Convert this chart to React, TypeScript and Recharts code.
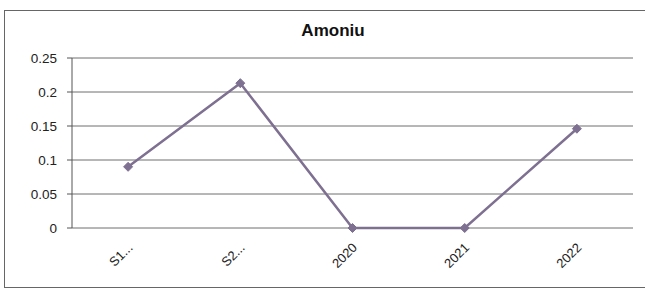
import React from "react";
import { LineChart, Line, XAxis, YAxis, CartesianGrid } from "recharts";

const categories = ["S1...", "S2...", "2020", "2021", "2022"];
const values = [0.09, 0.213, 0, 0, 0.146];
const yTicks = [0, 0.05, 0.1, 0.15, 0.2, 0.25];

const data = categories.map((c, i) => ({ x: i + 0.5, name: c, v: values[i] }));
const boundaryTicks = categories.map((_, i) => i).concat([categories.length]);
const centerTicks = categories.map((_, i) => i + 0.5);

const FONT = "'Liberation Sans', Arial, sans-serif";
const LINE_COLOR = "#7e7091";

const Diamond = (props: any) => {
  const { cx, cy } = props;
  if (cx == null || cy == null) return null;
  const s = 4.5;
  return (
    <polygon
      points={`${cx},${cy - s} ${cx + s},${cy} ${cx},${cy + s} ${cx - s},${cy}`}
      fill={LINE_COLOR}
      stroke={LINE_COLOR}
    />
  );
};

const LabelTick = (props: any) => {
  const { x, y, payload } = props;
  const idx = Math.round(payload.value - 0.5);
  const label = categories[idx] ?? "";
  return (
    <g transform={`translate(${x - 1},${y + 6})`}>
      <text
        x={0}
        y={0}
        dy={9}
        textAnchor="end"
        transform="rotate(-45)"
        fontSize={13}
        fontFamily={FONT}
        fill="#222"
      >
        {label}
      </text>
    </g>
  );
};

export default function App() {
  return (
    <div style={{ position: "absolute", left: 0, top: 0, width: 645, height: 289, background: "#fff" }}>
      <div
        style={{
          position: "absolute",
          left: 4,
          top: 10,
          width: 645,
          height: 276,
          borderLeft: "1.5px solid #666",
          borderTop: "1.5px solid #666",
          borderBottom: "1.5px solid #666",
        }}
      />
      <div
        style={{
          position: "absolute",
          left: 0,
          top: 21,
          width: 666,
          textAlign: "center",
          fontFamily: FONT,
          fontWeight: "bold",
          fontSize: 17,
          color: "#111",
        }}
      >
        Amoniu
      </div>
      <div style={{ position: "absolute", left: 0, top: 0 }}>
        <LineChart
          width={645}
          height={289}
          data={data}
          margin={{ top: 58, right: 12, bottom: 11, left: 27 }}
        >
          <CartesianGrid horizontal vertical={false} stroke="#6f6f6f" strokeWidth={1} />
          <XAxis
            xAxisId="main"
            dataKey="x"
            type="number"
            domain={[0, categories.length]}
            ticks={boundaryTicks}
            tick={false}
            tickSize={5}
            tickLine={{ stroke: "#555" }}
            axisLine={{ stroke: "#555" }}
            height={0}
          />
          <XAxis
            xAxisId="labels"
            dataKey="x"
            type="number"
            domain={[0, categories.length]}
            ticks={centerTicks}
            tick={<LabelTick />}
            tickLine={false}
            axisLine={false}
            height={50}
            interval={0}
          />
          <YAxis
            domain={[0, 0.25]}
            ticks={yTicks}
            width={45}
            tickSize={5}
            tickMargin={10}
            tickLine={{ stroke: "#555" }}
            axisLine={{ stroke: "#555" }}
            tick={{ fontSize: 13.5, fontFamily: FONT, fill: "#222" }}
            interval={0}
          />
          <Line
            xAxisId="main"
            dataKey="v"
            stroke={LINE_COLOR}
            strokeWidth={2.5}
            dot={<Diamond />}
            isAnimationActive={false}
          />
        </LineChart>
      </div>
    </div>
  );
}
